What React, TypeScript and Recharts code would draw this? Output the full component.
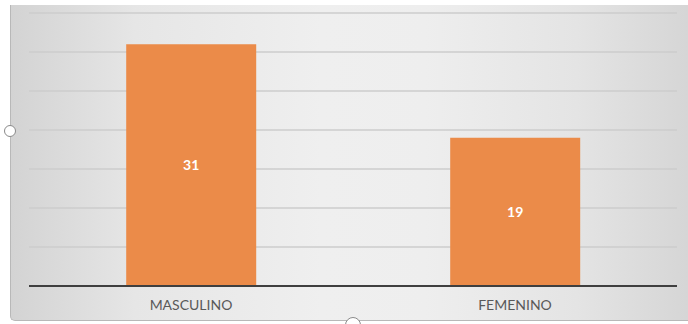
import React from 'react';
import { BarChart, Bar, XAxis, YAxis, CartesianGrid, LabelList } from 'recharts';

const categories = ['MASCULINO', 'FEMENINO'];
const counts = [31, 19];
const yTicks = [0, 5, 10, 15, 20, 25, 30, 35];

const data = categories.map((name, i) => ({ name, value: counts[i] }));

const handle: React.CSSProperties = {
  position: 'absolute',
  borderRadius: '50%',
  border: '1.5px solid #8a8a8a',
  background: '#fff',
  boxSizing: 'border-box',
};

const App: React.FC = () => {
  return (
    <div style={{ position: 'absolute', left: 0, top: 0, width: 688, height: 324, background: '#fff', overflow: 'hidden' }}>
      <div
        style={{
          position: 'absolute',
          left: 10,
          top: 5,
          width: 690,
          height: 315,
          borderLeft: '1px solid #b8b8b8',
          borderBottom: '1px solid #b8b8b8',
          borderBottomLeftRadius: 5,
          background:
            'linear-gradient(to right, #d3d3d3 0%, #e6e6e6 18%, #efefef 45%, #eeeeee 60%, #e4e4e4 82%, #d4d4d4 100%)',
        }}
      />
      <div style={{ position: 'absolute', left: 0, top: 0 }}>
        <BarChart
          width={688}
          height={324}
          data={data}
          margin={{ top: 13, right: 11, left: 29, bottom: 8 }}
          barCategoryGap="30%"
        >
          <CartesianGrid vertical={false} stroke="#cdcdcd" strokeWidth={1.5} />
          <YAxis hide domain={[0, 35]} ticks={yTicks} />
          <XAxis
            dataKey="name"
            height={30}
            tickLine={false}
            tickMargin={8}
            axisLine={{ stroke: '#3f3f3f', strokeWidth: 2 }}
            tick={{ fill: '#595959', fontSize: 14, fontFamily: 'Lato, "Open Sans", sans-serif' }}
          />
          <Bar dataKey="value" fill="#eb8b49" isAnimationActive={false}>
            <LabelList
              dataKey="value"
              position="center"
              fill="#ffffff"
              fontSize={14}
              fontWeight="bold"
              fontFamily='Lato, "Open Sans", sans-serif'
            />
          </Bar>
        </BarChart>
      </div>
      <div style={{ ...handle, left: 4, top: 125, width: 12, height: 12 }} />
      <div style={{ ...handle, left: 345, top: 317, width: 16, height: 16 }} />
    </div>
  );
};

export default App;
